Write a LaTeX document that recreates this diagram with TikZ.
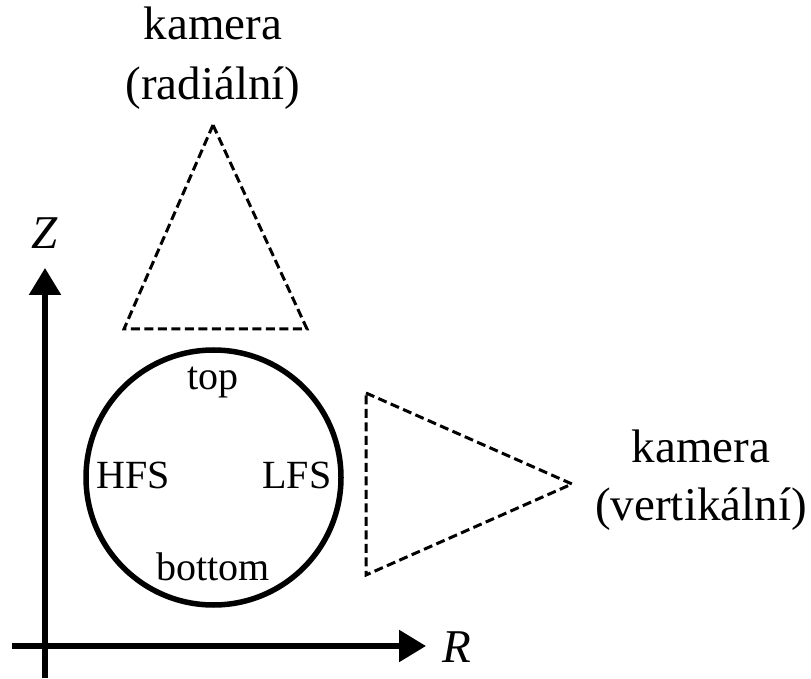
\documentclass[tikz,border=0pt]{standalone}
\usepackage{fontspec}
\setmainfont{Liberation Serif}
\usetikzlibrary{arrows.meta}

\begin{document}
\begin{tikzpicture}[x=1pt, y=1pt]
		% Styles
		\tikzset{axis style/.style={line width=5.5pt,
								-{Triangle[length=27pt, width=31pt]}},
				camera style/.style={line width=3pt,
								dash pattern=on 9pt off 4.5pt,
								line join=miter},
				big label/.style={inner sep=0pt, anchor=base,
								font=\fontsize{47}{56}\selectfont},
				small label/.style={inner sep=0pt, anchor=base,
								font=\fontsize{40}{48}\selectfont}}
		
		\useasboundingbox (0, 0) rectangle (811, 678);
		
		% Axes
		\coordinate (Zbot) at (45, 0);
		\coordinate (Ztip) at (45, 410);
		\coordinate (Rleft) at (12, 32);
		\coordinate (Rtip) at (426, 32);
		\draw[axis style] (Zbot) -- (Ztip);
		\draw[axis style] (Rleft) -- (Rtip);
		\node[big label] at (45, 429)		(Z) {\textit{Z}};
		\node[big label] at (457, 16)		(R) {\textit{R}};
		
		% Plasma cross-section
		\node[circle, draw, line width=5.5pt, minimum size=255pt,
				inner sep=0pt] at (213.5, 200.5) (vessel) {};
		\node[small label] at (213, 288)	(top) {top};
		\node[small label] at (133, 190)	(HFS) {HFS};
		\node[small label] at (297, 190)	(LFS) {LFS};
		\node[small label] at (213, 98)		(bottom) {bottom};
		
		% Radial camera
		\coordinate (A1) at (213, 553);
		\coordinate (A2) at (124, 349);
		\coordinate (A3) at (307, 349);
		\draw[camera style] (A1) -- (A2) -- (A3) -- cycle;
		\node[big label] at (213, 638)		(radA) {kamera};
		\node[big label] at (213, 578)		(radB) {(radiální)};
		
		% Vertical camera
		\coordinate (B1) at (366, 285);
		\coordinate (B2) at (572, 194);
		\coordinate (B3) at (366, 103);
		\draw[camera style] (B1) -- (B2) -- (B3) -- cycle;
		\node[big label] at (701, 215)		(verA) {kamera};
		\node[big label] at (701, 158)		(verB) {(vertikální)};
		
	\end{tikzpicture}
\end{document}
